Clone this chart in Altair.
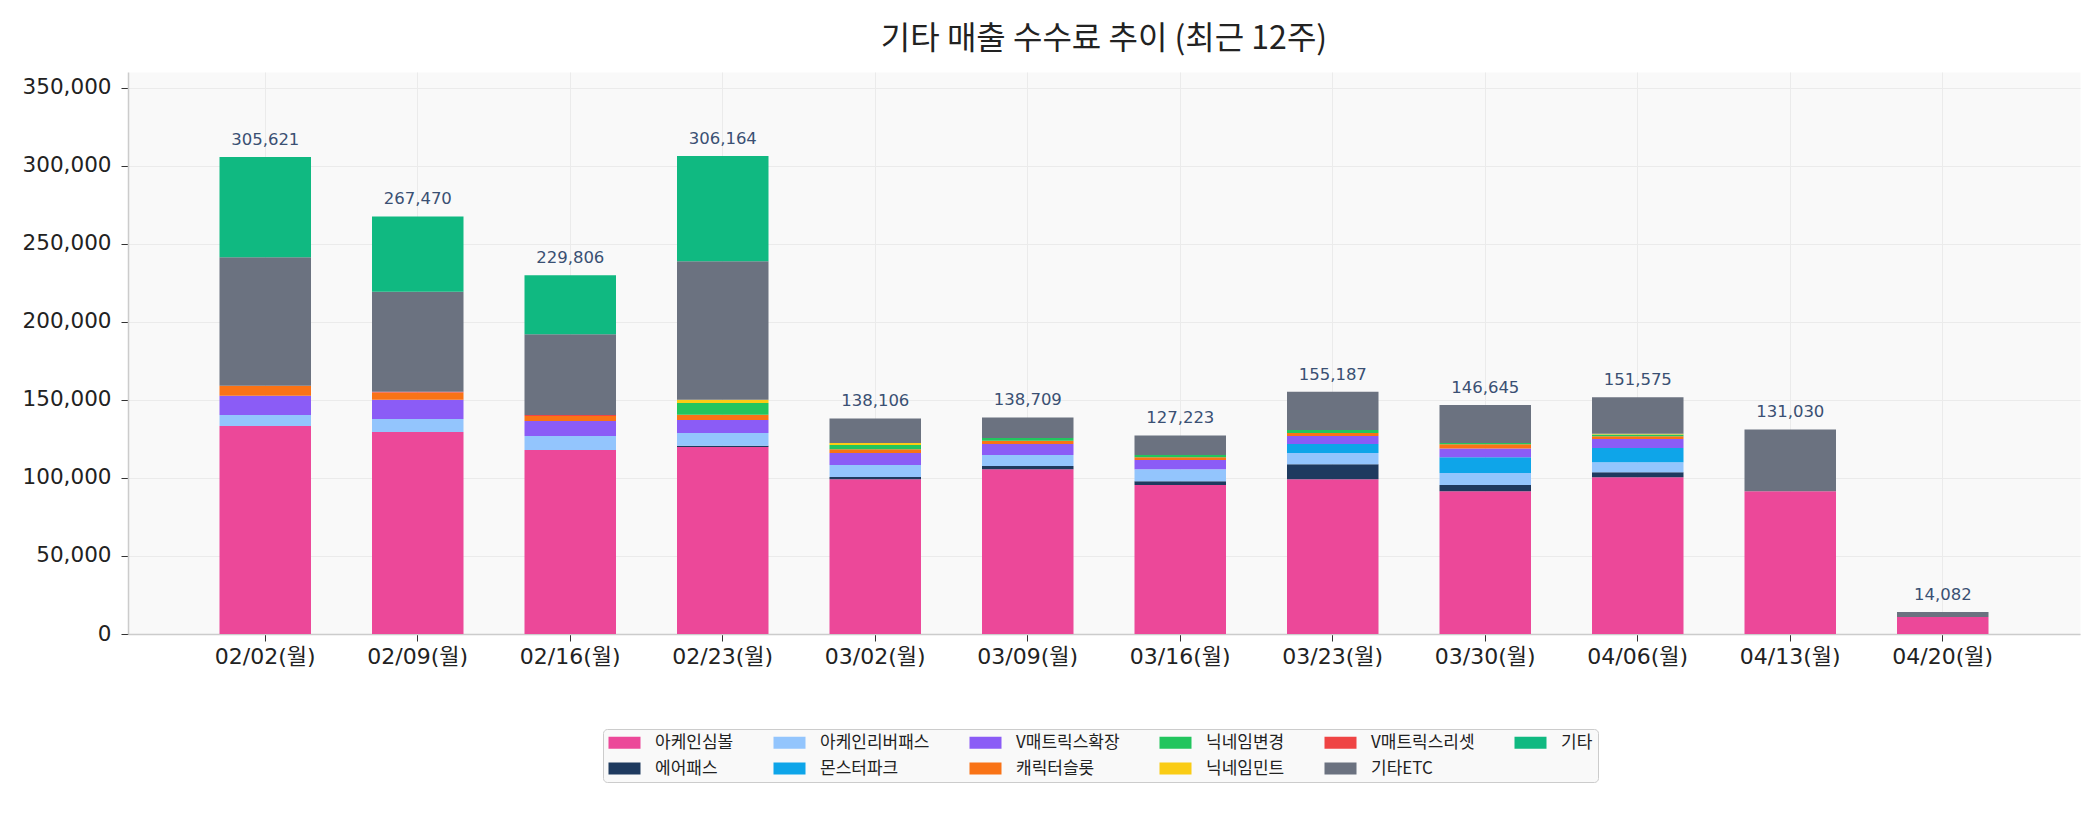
import altair as alt
import pandas as pd

weeks = ["02/02(월)", "02/09(월)", "02/16(월)", "02/23(월)", "03/02(월)", "03/09(월)",
         "03/16(월)", "03/23(월)", "03/30(월)", "04/06(월)", "04/13(월)", "04/20(월)"]

arcane_symbol = [133300, 129400, 117800, 119800, 99200, 105600, 95400, 99200, 91500, 100400, 91500, 10900]
air_pass = [0, 0, 0, 800, 1300, 2000, 2500, 9600, 3900, 3200, 0, 0]
arcane_river_pass = [7000, 8400, 9000, 8200, 7700, 7000, 7700, 7100, 7700, 6400, 0, 0]
monster_park = [0, 0, 0, 0, 0, 0, 0, 5800, 10200, 9100, 0, 0]
v_matrix_expand = [12300, 12200, 9700, 8300, 7700, 7100, 5800, 5100, 5600, 5800, 0, 0]
char_slot = [6400, 4700, 3200, 3400, 2500, 2100, 1900, 1900, 2600, 1700, 0, 0]
nickname_change = [0, 0, 0, 7500, 2600, 1700, 1300, 1900, 800, 1200, 0, 0]
nickname_mint = [0, 0, 0, 2000, 1300, 0, 0, 0, 0, 500, 0, 0]
v_matrix_reset = [0, 500, 600, 0, 0, 0, 0, 0, 0, 0, 0, 0]
etc_misc = [82400, 64100, 51700, 88700, 15806, 13209, 12623, 24587, 24345, 23275, 39530, 3182]
etc = [64221, 48170, 37806, 67464, 0, 0, 0, 0, 0, 0, 0, 0]

# stacking order, bottom to top
series = [
    ("아케인심볼", arcane_symbol, "#EC4899"),
    ("에어패스", air_pass, "#1E3A5F"),
    ("아케인리버패스", arcane_river_pass, "#93C5FD"),
    ("몬스터파크", monster_park, "#0EA5E9"),
    ("V매트릭스확장", v_matrix_expand, "#8B5CF6"),
    ("캐릭터슬롯", char_slot, "#F97316"),
    ("닉네임변경", nickname_change, "#22C55E"),
    ("닉네임민트", nickname_mint, "#FACC15"),
    ("V매트릭스리셋", v_matrix_reset, "#EF4444"),
    ("기타ETC", etc_misc, "#6B7280"),
    ("기타", etc, "#10B981"),
]

# legend reads row by row (matplotlib fills column by column)
legend_order = ["아케인심볼", "아케인리버패스", "V매트릭스확장", "닉네임변경", "V매트릭스리셋", "기타",
                "에어패스", "몬스터파크", "캐릭터슬롯", "닉네임민트", "기타ETC"]
color_of = {name: c for name, _, c in series}

rows = []
for idx, (name, vals, _) in enumerate(series):
    for w, v in zip(weeks, vals):
        rows.append({"week": w, "item": name, "value": v, "stack": idx})
df = pd.DataFrame(rows)

totals = pd.DataFrame({
    "week": weeks,
    "total": [sum(s[1][i] for s in series) for i in range(len(weeks))],
})

KR = "Noto Sans CJK KR"
NUM = "DejaVu Sans, Noto Sans CJK KR"

x_enc = alt.X("week:N", sort=weeks, title=None,
              scale=alt.Scale(paddingInner=0.4, paddingOuter=0.6),
              axis=alt.Axis(labelAngle=0, labelFontSize=22, labelPadding=5, grid=True))

bars = alt.Chart(df).mark_bar().encode(
    x=x_enc,
    y=alt.Y("value:Q", title=None,
            scale=alt.Scale(domain=[0, 360000], nice=False),
            axis=alt.Axis(values=list(range(0, 350001, 50000)), format=",.0f",
                          labelFontSize=21.5, labelPadding=10, minExtent=115, maxExtent=115)),
    color=alt.Color("item:N", title=None,
                    scale=alt.Scale(domain=legend_order, range=[color_of[n] for n in legend_order]),
                    legend=alt.Legend(orient="none", legendX=475, legendY=657, columns=6,
                                      direction="horizontal",
                                      symbolType="M-1,-0.75H3V0.75H-1Z", symbolSize=256,
                                      symbolStrokeWidth=0, labelFontSize=17, labelOffset=30,
                                      columnPadding=39, rowPadding=8, padding=5,
                                      fillColor="#F9F9F9", strokeColor="#CCCCCC",
                                      cornerRadius=4, labelLimit=300)),
    order=alt.Order("stack:Q", sort="ascending"),
)

labels = alt.Chart(totals).mark_text(baseline="alphabetic", dy=-12, fontSize=16.5, font=NUM,
                                     color="#3A5073").encode(
    x=alt.X("week:N", sort=weeks),
    y=alt.Y("total:Q"),
    text=alt.Text("total:Q", format=",.0f"),
)

chart = alt.layer(bars, labels).properties(
    width=1952,
    height=562,
    padding={"left": 5, "top": 15, "right": 5, "bottom": 5},
    title=alt.TitleParams("기타 매출 수수료 추이 (최근 12주)", fontSize=32, fontWeight="normal",
                          font=KR, color="#222222", offset=16, anchor="middle"),
).configure(
    font=KR,
).configure_view(
    fill="#F9F9F9",
    stroke="transparent",
).configure_axis(
    labelColor="#222222",
    labelFont=NUM,
    domainColor="#CCCCCC",
    domainWidth=1.5,
    tickColor="#333333",
    tickSize=7,
    gridColor="#EBEBEB",
    gridWidth=1,
).configure_legend(
    labelFont=KR,
    labelColor="#222222",
)

chart.save("out.html", embed_options={"renderer": "svg", "actions": False})
